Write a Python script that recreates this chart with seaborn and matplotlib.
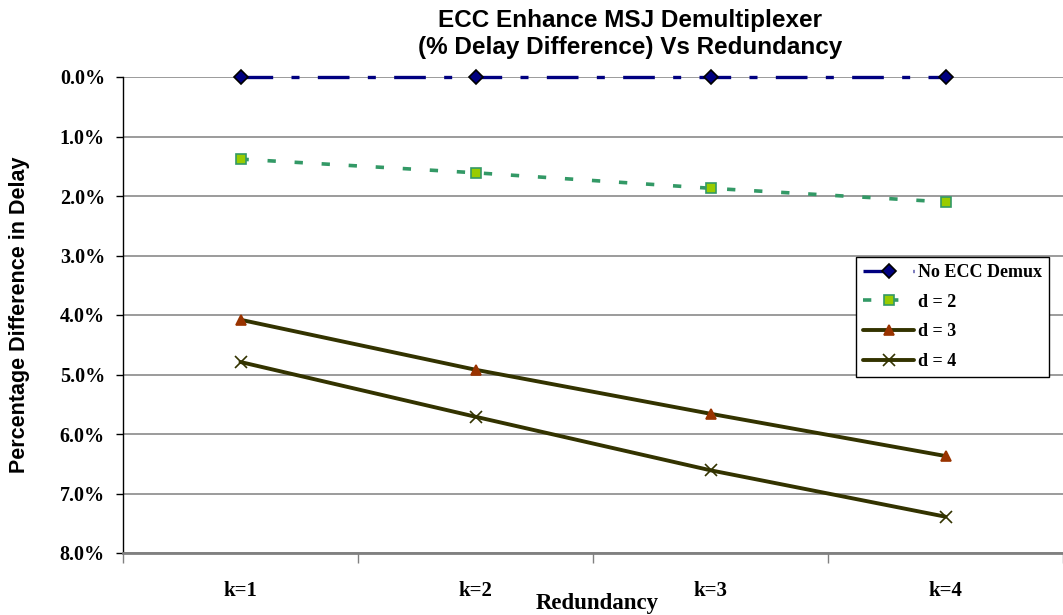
import matplotlib
matplotlib.use("Agg")
import matplotlib.pyplot as plt
import seaborn as sns
import pandas as pd
from matplotlib.ticker import FixedLocator, FuncFormatter

# Data (percentage difference in delay)
redundancy = ["k=1", "k=2", "k=3", "k=4"]
no_ecc = [0.0, 0.0, 0.0, 0.0]
d2 = [1.38, 1.61, 1.87, 2.10]
d3 = [4.08, 4.92, 5.66, 6.37]
d4 = [4.79, 5.71, 6.61, 7.39]

sns.set_theme(style="white", rc={
    "text.color": "black",
    "axes.labelcolor": "black",
    "xtick.color": "black",
    "ytick.color": "black",
})
plt.rcParams["font.family"] = ["Liberation Serif", "DejaVu Serif"]

fig = plt.figure(figsize=(10.63, 6.15), dpi=100)
ax = fig.add_axes([123 / 1063, 1 - 553 / 615, 940 / 1063, 476 / 615])

xpos = list(range(len(redundancy)))

series = [
    dict(y=no_ecc, label="No ECC Demux", color="#000080", marker="D", ms=7,
         mfc="#000080", mec="#000000", ls=(0, (9.5, 5.5, 2.4, 5.5)), lw=2.4),
    dict(y=d2, label="d = 2", color="#339966", marker="s", ms=6.5,
         mfc="#99CC00", mec="#339966", ls=(0, (2.3, 5.2)), lw=2.6),
    dict(y=d3, label="d = 3", color="#333300", marker="^", ms=7,
         mfc="#993300", mec="#993300", ls="-", lw=2.8),
    dict(y=d4, label="d = 4", color="#333300", marker="x", ms=8,
         mfc="#333300", mec="#333300", ls="-", lw=2.8),
]

for s in series:
    df = pd.DataFrame({"x": xpos, "y": s["y"]})
    sns.lineplot(data=df, x="x", y="y", ax=ax, color=s["color"],
                 marker=s["marker"], markersize=s["ms"],
                 markerfacecolor=s["mfc"], markeredgecolor=s["mec"],
                 markeredgewidth=1.2, linestyle=s["ls"], linewidth=s["lw"],
                 label=s["label"], zorder=3, clip_on=False)

ax.set_xlim(-0.5, len(redundancy) - 0.5)
ax.set_ylim(8.0, 0.0)

# y axis: percentages, gridlines every 1%
ax.set_yticks([i * 1.0 for i in range(9)])
ax.yaxis.set_major_formatter(FuncFormatter(lambda v, p: f"{v:.1f}%"))
ax.yaxis.grid(True, color="#808080", linewidth=1.1)
ax.set_axisbelow(True)

# x axis: ticks between categories, labels centred
ax.xaxis.set_major_locator(FixedLocator([i - 0.5 for i in range(len(redundancy) + 1)]))
ax.xaxis.set_major_formatter(FuncFormatter(lambda v, p: ""))
ax.xaxis.set_minor_locator(FixedLocator(xpos))
ax.set_xticklabels(redundancy, minor=True)
ax.tick_params(axis="x", which="major", direction="out", length=7, width=1,
               color="#808080", bottom=True)
ax.tick_params(axis="x", which="minor", length=0, pad=20, labelsize=15)
for t in ax.get_xticklabels(minor=True):
    t.set_fontweight("bold")
ax.tick_params(axis="y", direction="out", length=5, width=1, color="black",
               left=True, labelsize=14.5, pad=8)
for t in ax.get_yticklabels():
    t.set_fontweight("bold")

for side in ["top", "right"]:
    ax.spines[side].set_visible(False)
ax.spines["left"].set_color("black")
ax.spines["left"].set_linewidth(1.0)
ax.spines["bottom"].set_color("#808080")
ax.spines["bottom"].set_linewidth(2.0)

ax.set_xlabel("Redundancy", fontsize=16.5, fontweight="bold", labelpad=0)
ax.xaxis.set_label_coords(0.504, -0.084)
ax.set_ylabel("Percentage Difference in Delay", fontsize=15.5, fontweight="bold",
              family=["Liberation Sans", "DejaVu Sans"])
ax.yaxis.set_label_coords(-0.099, 0.5)

fig.text(630 / 1063, 1 - 34 / 615, "ECC Enhance MSJ Demultiplexer\n(% Delay Difference) Vs Redundancy",
         ha="center", va="center", fontsize=17.5, fontweight="bold",
         family=["Liberation Sans", "DejaVu Sans"], linespacing=1.22)

leg = ax.legend(loc="upper left", bbox_to_anchor=(0.78, 0.622), frameon=True,
                fancybox=False, edgecolor="black", facecolor="white",
                framealpha=1, prop={"weight": "bold", "size": 13},
                handlelength=2.8, borderpad=0.4, labelspacing=0.7,
                handletextpad=0.2, borderaxespad=0)
leg.get_frame().set_linewidth(1.0)

fig.savefig("out.png", dpi=100)
